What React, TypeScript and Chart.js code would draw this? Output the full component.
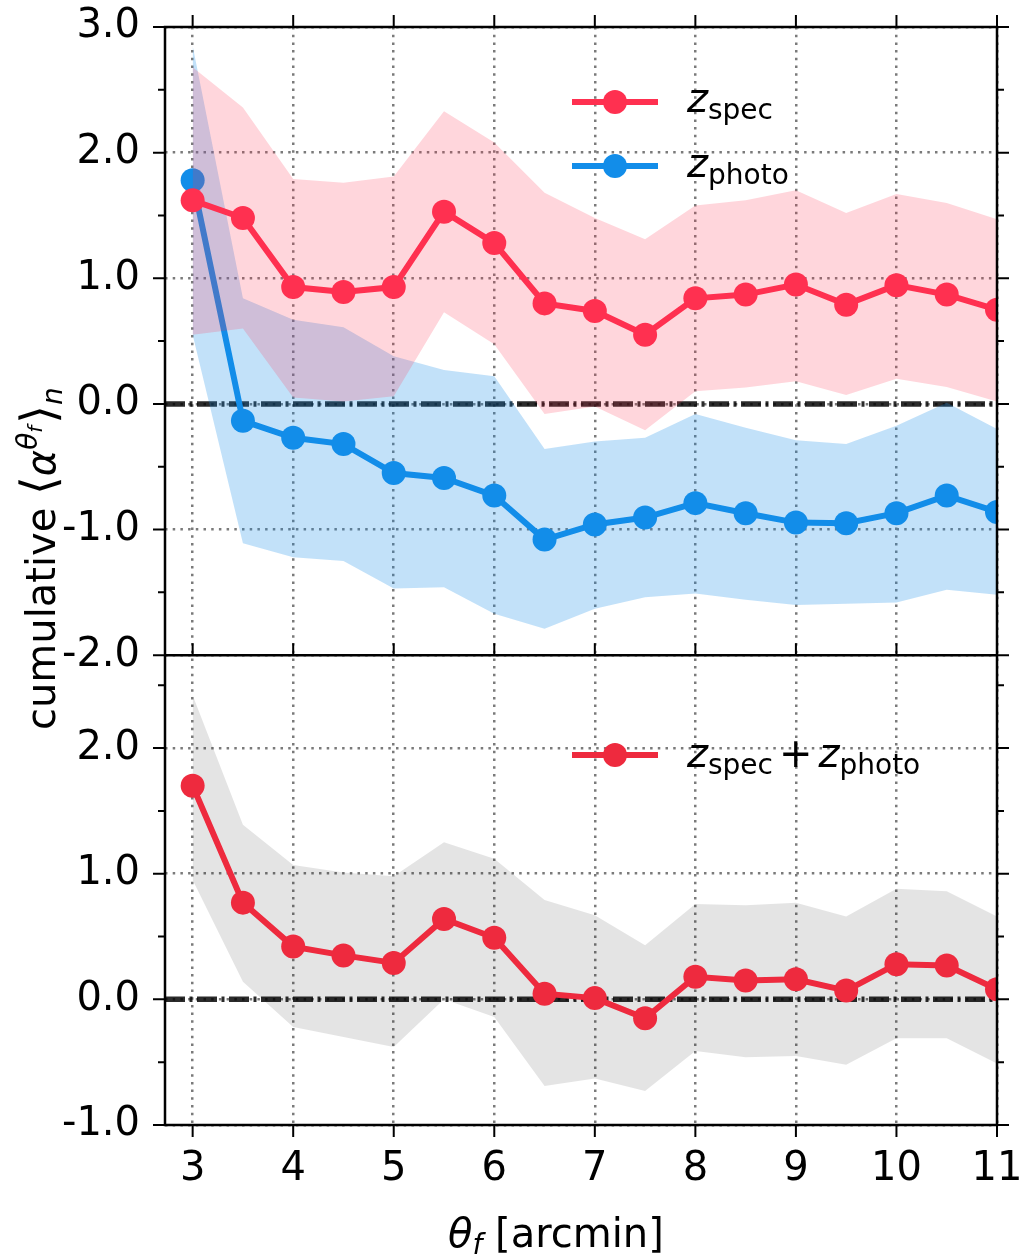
import React, { useEffect, useRef } from "react";
import { Chart, registerables } from "chart.js";

Chart.register(...registerables);

// Aperture sizes (arcmin)
const thetaArcmin = [3, 3.5, 4, 4.5, 5, 5.5, 6, 6.5, 7, 7.5, 8, 8.5, 9, 9.5, 10, 10.5, 11];

// Upper panel: spectroscopic sample
const zspecMean = [1.62, 1.48, 0.93, 0.89, 0.93, 1.53, 1.28, 0.8, 0.74, 0.55, 0.84, 0.87, 0.95, 0.79, 0.945, 0.87, 0.75];
const zspecUpper = [2.68, 2.36, 1.79, 1.76, 1.81, 2.33, 2.08, 1.68, 1.48, 1.31, 1.58, 1.62, 1.7, 1.52, 1.67, 1.6, 1.47];
const zspecLower = [0.55, 0.6, 0.05, 0.02, 0.06, 0.73, 0.475, -0.08, -0.02, -0.21, 0.1, 0.13, 0.18, 0.07, 0.2, 0.135, 0.02];

// Upper panel: photometric sample
const zphotoMean = [1.78, -0.135, -0.27, -0.32, -0.55, -0.59, -0.73, -1.08, -0.96, -0.905, -0.79, -0.87, -0.945, -0.95, -0.87, -0.73, -0.86];
const zphotoUpper = [2.85, 0.84, 0.67, 0.61, 0.38, 0.27, 0.22, -0.36, -0.3, -0.27, -0.08, -0.19, -0.29, -0.32, -0.175, 0.01, -0.2];
const zphotoLower = [0.55, -1.11, -1.22, -1.25, -1.47, -1.46, -1.67, -1.79, -1.63, -1.54, -1.51, -1.56, -1.6, -1.59, -1.58, -1.48, -1.52];

// Lower panel: combined sample
const combinedMean = [1.7, 0.77, 0.42, 0.35, 0.29, 0.64, 0.49, 0.045, 0.01, -0.15, 0.18, 0.15, 0.16, 0.07, 0.28, 0.27, 0.08];
const combinedUpper = [2.42, 1.39, 1.07, 1.01, 0.98, 1.25, 1.12, 0.79, 0.67, 0.43, 0.76, 0.75, 0.77, 0.66, 0.88, 0.86, 0.66];
const combinedLower = [0.95, 0.14, -0.22, -0.3, -0.38, 0.0, -0.14, -0.69, -0.63, -0.73, -0.41, -0.46, -0.45, -0.52, -0.31, -0.31, -0.51];

// Axis limits
const X_MIN = 2.725;
const X_MAX = 11;
const TOP_Y_MIN = -2;
const TOP_Y_MAX = 3;
const BOTTOM_Y_MIN = -1;
const BOTTOM_Y_MAX = 2.74;
const zeroLevel = [0, 0];

const FONT = "'DejaVu Sans', sans-serif";
const SPEC_COLOR = "#ff3050";
const PHOTO_COLOR = "#128de9";
const COMBINED_COLOR = "#ee2a3e";
const LINE_WIDTH = 6;

const pts = (ys: number[]) => thetaArcmin.map((x, i) => ({ x, y: ys[i] }));
const zeroPts = () => [
  { x: X_MIN, y: zeroLevel[0] },
  { x: X_MAX, y: zeroLevel[1] },
];

const hiddenLine = {
  borderColor: "transparent",
  borderWidth: 0,
  pointRadius: 0,
  fill: false,
};

const seriesLine = (color: string) => ({
  borderColor: color,
  backgroundColor: color,
  borderWidth: LINE_WIDTH,
  pointRadius: 12,
  pointBorderWidth: 0,
  pointBackgroundColor: color,
  fill: false,
  clip: 0,
});

const zeroLine = {
  borderColor: "rgba(0,0,0,0.83)",
  borderWidth: 5.5,
  borderDash: [20, 4.5, 3, 4.5],
  pointRadius: 0,
  fill: false,
};

function drawMathLabel(
  ctx: CanvasRenderingContext2D,
  x: number,
  y: number,
  parts: { t: string; size: number; italic?: boolean; dy?: number; gap?: number }[]
) {
  let cx = x;
  for (const p of parts) {
    cx += p.gap || 0;
    ctx.font = `${p.italic ? "italic " : ""}${p.size}px ${FONT}`;
    ctx.fillText(p.t, cx, y + (p.dy || 0));
    cx += ctx.measureText(p.t).width;
  }
}

const decorations = {
  id: "panelDecorations",
  afterDatasetsDraw(chart: any) {
    const ctx: CanvasRenderingContext2D = chart.ctx;
    const { left, right, top, bottom } = chart.chartArea;
    const xs = chart.scales.x;
    const yt = chart.scales.yTop;
    const yb = chart.scales.yBottom;
    const mid = yt.bottom;
    ctx.save();
    ctx.strokeStyle = "#000";
    ctx.lineWidth = 2.5;
    ctx.lineCap = "butt";

    // frame and panel divider
    ctx.strokeRect(left, top, right - left, bottom - top);
    ctx.beginPath();
    ctx.moveTo(left, mid);
    ctx.lineTo(right, mid);
    ctx.stroke();

    // y ticks (major every 1, minor every 0.5), outward on both sides
    ctx.lineWidth = 2;
    for (const s of [yt, yb]) {
      for (let v = Math.ceil(s.min * 2) / 2; v <= s.max + 1e-9; v += 0.5) {
        const py = s.getPixelForValue(v);
        const len = Math.abs(v - Math.round(v)) < 1e-9 ? 12 : 7;
        ctx.beginPath();
        ctx.moveTo(left - len, py);
        ctx.lineTo(left, py);
        ctx.moveTo(right, py);
        ctx.lineTo(right + len, py);
        ctx.stroke();
      }
    }
    // x ticks: below, above and at the divider
    for (const t of xs.ticks) {
      const px = xs.getPixelForValue(t.value);
      ctx.beginPath();
      ctx.moveTo(px, bottom);
      ctx.lineTo(px, bottom + 12);
      ctx.moveTo(px, top - 12);
      ctx.lineTo(px, top);
      ctx.moveTo(px, mid - 12);
      ctx.lineTo(px, mid);
      ctx.stroke();
    }

    // legends
    const entry = (yLine: number, color: string) => {
      ctx.strokeStyle = color;
      ctx.fillStyle = color;
      ctx.lineWidth = LINE_WIDTH;
      ctx.beginPath();
      ctx.moveTo(572, yLine);
      ctx.lineTo(658, yLine);
      ctx.stroke();
      ctx.beginPath();
      ctx.arc(615, yLine, 12, 0, Math.PI * 2);
      ctx.fill();
    };
    entry(102, SPEC_COLOR);
    entry(166, PHOTO_COLOR);
    entry(755, COMBINED_COLOR);

    ctx.fillStyle = "#000";
    ctx.textBaseline = "alphabetic";
    ctx.textAlign = "left";
    drawMathLabel(ctx, 687, 112, [
      { t: "z", size: 40, italic: true },
      { t: "spec", size: 28, dy: 7 },
    ]);
    drawMathLabel(ctx, 687, 177, [
      { t: "z", size: 40, italic: true },
      { t: "photo", size: 28, dy: 7 },
    ]);
    drawMathLabel(ctx, 687, 767, [
      { t: "z", size: 40, italic: true },
      { t: "spec", size: 28, dy: 7 },
      { t: "+", size: 40, gap: 6 },
      { t: "z", size: 40, italic: true, gap: 6 },
      { t: "photo", size: 28, dy: 7 },
    ]);

    // x axis title
    drawMathLabel(ctx, 448, 1247, [
      { t: "θ", size: 40, italic: true },
      { t: "f", size: 28, italic: true, dy: 7 },
      { t: " [arcmin]", size: 40 },
    ]);

    // y axis title
    ctx.translate(55, 730);
    ctx.rotate(-Math.PI / 2);
    drawMathLabel(ctx, 0, 0, [
      { t: "cumulative ", size: 40 },
      { t: "⟨", size: 48 },
      { t: "α", size: 40, italic: true },
      { t: "θ", size: 28, italic: true, dy: -18 },
      { t: "f", size: 20, italic: true, dy: -13 },
      { t: "⟩", size: 48, gap: 2 },
      { t: "n", size: 28, italic: true, dy: 7 },
    ]);
    ctx.restore();
  },
};

const gridStyle = {
  color: "#7a7a7a",
  lineWidth: 2.5,
  drawTicks: false,
};

export default function App() {
  const canvasRef = useRef<HTMLCanvasElement>(null);

  useEffect(() => {
    const canvas = canvasRef.current;
    if (!canvas) return;
    Chart.defaults.font.family = FONT;
    const chart = new Chart(canvas, {
      type: "line",
      data: {
        datasets: [
          // upper panel
          { label: "zero-top", data: zeroPts(), yAxisID: "yTop", order: 100, ...zeroLine },
          { label: "zphoto-lower", data: pts(zphotoLower), yAxisID: "yTop", order: 90, ...hiddenLine },
          {
            label: "zphoto-upper",
            data: pts(zphotoUpper),
            yAxisID: "yTop",
            order: 80,
            ...hiddenLine,
            fill: 1,
            backgroundColor: "rgba(18,141,233,0.26)",
          },
          { label: "zphoto", data: pts(zphotoMean), yAxisID: "yTop", order: 70, ...seriesLine(PHOTO_COLOR) },
          { label: "zspec-lower", data: pts(zspecLower), yAxisID: "yTop", order: 60, ...hiddenLine },
          {
            label: "zspec-upper",
            data: pts(zspecUpper),
            yAxisID: "yTop",
            order: 50,
            ...hiddenLine,
            fill: 4,
            backgroundColor: "rgba(255,48,80,0.2)",
          },
          { label: "zspec", data: pts(zspecMean), yAxisID: "yTop", order: 40, ...seriesLine(SPEC_COLOR) },
          // lower panel
          { label: "zero-bottom", data: zeroPts(), yAxisID: "yBottom", order: 35, ...zeroLine },
          { label: "combined-lower", data: pts(combinedLower), yAxisID: "yBottom", order: 30, ...hiddenLine },
          {
            label: "combined-upper",
            data: pts(combinedUpper),
            yAxisID: "yBottom",
            order: 25,
            ...hiddenLine,
            fill: 8,
            backgroundColor: "rgba(0,0,0,0.105)",
          },
          { label: "combined", data: pts(combinedMean), yAxisID: "yBottom", order: 20, ...seriesLine(COMBINED_COLOR) },
        ] as any,
      },
      options: {
        responsive: false,
        animation: false,
        devicePixelRatio: 1,
        events: [],
        layout: { padding: { top: 27, right: 23, bottom: 0, left: 0 } },
        elements: { line: { tension: 0 } },
        plugins: {
          legend: { display: false },
          tooltip: { enabled: false },
          title: { display: false },
        },
        scales: {
          x: {
            type: "linear",
            position: "bottom",
            min: X_MIN,
            max: X_MAX,
            ticks: {
              stepSize: 1,
              includeBounds: false,
              autoSkip: false,
              maxRotation: 0,
              color: "#000",
              padding: 21,
              font: { size: 40, family: FONT },
              callback: (v: any) => String(v),
            },
            grid: gridStyle,
            border: { display: false, dash: [2.5, 5.2] },
            afterFit: (s: any) => {
              s.height = 129;
              s.paddingLeft = 0;
              s.paddingRight = 0;
            },
          },
          yBottom: {
            type: "linear",
            position: "left",
            stack: "panels",
            stackWeight: BOTTOM_Y_MAX - BOTTOM_Y_MIN,
            min: BOTTOM_Y_MIN,
            max: BOTTOM_Y_MAX,
            ticks: {
              stepSize: 1,
              includeBounds: false,
              autoSkip: false,
              color: "#000",
              padding: 25,
              font: { size: 40, family: FONT },
              callback: (v: any) => Number(v).toFixed(1),
            },
            grid: gridStyle,
            border: { display: false, dash: [2.5, 5.2] },
            afterFit: (s: any) => {
              s.width = 165;
              s.paddingTop = 0;
              s.paddingBottom = 0;
            },
          },
          yTop: {
            type: "linear",
            position: "left",
            stack: "panels",
            stackWeight: TOP_Y_MAX - TOP_Y_MIN,
            min: TOP_Y_MIN,
            max: TOP_Y_MAX,
            ticks: {
              stepSize: 1,
              includeBounds: false,
              autoSkip: false,
              color: "#000",
              padding: 25,
              font: { size: 40, family: FONT },
              callback: (v: any) => Number(v).toFixed(1),
            },
            grid: gridStyle,
            border: { display: false, dash: [2.5, 5.2] },
            afterFit: (s: any) => {
              s.width = 165;
              s.paddingTop = 0;
              s.paddingBottom = 0;
            },
          },
        },
      } as any,
      plugins: [decorations],
    });
    return () => chart.destroy();
  }, []);

  return (
    <div style={{ position: "absolute", left: 0, top: 0, width: 1020, height: 1254, background: "#fff" }}>
      <canvas ref={canvasRef} width={1020} height={1254} style={{ display: "block" }} />
    </div>
  );
}
